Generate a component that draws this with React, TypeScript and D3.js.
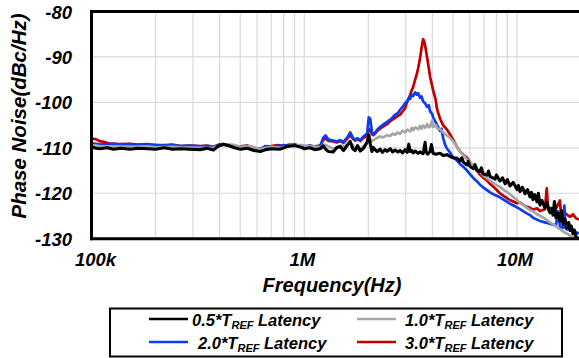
import React from "react";
import * as d3 from "d3";

// Phase noise traces for four loop latencies: [offset frequency (kHz), dBc/Hz]
const latency05: [number, number][] = [
  [100, -109.8], [105, -110.1], [110, -110.2], [118, -110.0], [127, -110.3], [138, -110.1], [152, -110.3],
  [165, -110.1], [183, -110.2], [200, -110.3], [220, -110.0], [240, -110.3], [262, -110.2], [290, -110.3],
  [325, -110.4], [350, -110.1], [374, -110.5], [395, -109.6], [417, -109.2], [440, -109.5], [470, -110.0],
  [501, -110.3], [540, -110.1], [580, -110.6], [622, -110.8], [660, -110.4], [700, -110.2], [772, -110.3],
  [830, -109.7], [900, -109.5], [958, -109.8], [1000, -110.2], [1060, -110.0], [1120, -110.4], [1189, -110.2],
  [1228, -109.6], [1260, -110.3], [1300, -110.8], [1368, -110.9], [1420, -110.0], [1476, -109.7], [1530, -110.6],
  [1600, -109.3], [1644, -108.6], [1690, -110.2], [1735, -110.6], [1780, -109.5], [1832, -110.7], [1900, -110.1],
  [1976, -108.7], [2010, -107.2], [2042, -109.0], [2080, -110.8], [2109, -109.9], [2160, -110.5], [2202, -110.8],
  [2273, -110.3], [2330, -111.0], [2400, -110.4], [2452, -110.8], [2535, -110.2], [2600, -110.9], [2675, -110.5],
  [2750, -110.9], [2825, -110.6], [2900, -111.1], [2979, -110.4], [3047, -111.0], [3100, -109.2], [3146, -110.8],
  [3200, -110.6], [3249, -111.1], [3321, -110.7], [3430, -111.2], [3505, -110.9], [3620, -111.3], [3700, -108.8],
  [3740, -110.9], [3800, -111.4], [3905, -110.8], [3960, -109.3], [4033, -111.2], [4150, -111.4], [4348, -111.2],
  [4493, -111.7], [4690, -111.5], [4842, -111.9], [5008, -112.2], [5228, -112.3], [5400, -112.9], [5500, -112.2],
  [5600, -113.2], [5821, -113.8], [5900, -113.0], [6012, -114.1], [6250, -114.6], [6350, -113.7], [6486, -115.0],
  [6699, -115.2], [6800, -114.4], [6920, -115.7], [7228, -116.0], [7350, -115.1], [7464, -116.3], [7880, -116.9],
  [8000, -116.0], [8318, -117.3], [8550, -116.6], [8790, -117.9], [9000, -117.0], [9270, -118.4], [9600, -117.6],
  [10000, -119.2], [10150, -118.3], [10330, -119.6], [10600, -118.7], [10910, -120.1], [11200, -119.2],
  [11510, -120.8], [11700, -119.8], [11890, -121.4], [12100, -120.3], [12410, -121.9], [12600, -120.0],
  [12820, -122.6], [13100, -121.6], [13520, -123.2], [13800, -122.0], [14290, -124.3], [14500, -123.3],
  [14760, -124.8], [15000, -121.8], [15240, -125.4], [15600, -124.4], [15920, -126.1], [16200, -123.8],
  [16440, -126.8], [16800, -125.7], [17180, -127.5], [17500, -126.4], [17740, -128.2], [18000, -127.2],
  [18330, -128.9], [18600, -128.1], [18930, -129.6], [19550, -130.0],
];

const latency10: [number, number][] = [
  [100, -109.4], [110, -109.6], [127, -109.7], [152, -109.8], [183, -109.7], [200, -109.9], [240, -109.8],
  [262, -109.9], [325, -110.0], [374, -110.0], [417, -109.3], [460, -109.3], [501, -109.8], [560, -109.7],
  [622, -110.3], [700, -109.8], [772, -110.0], [850, -109.6], [958, -109.4], [1060, -109.6], [1189, -109.9],
  [1250, -109.3], [1368, -110.2], [1476, -109.5], [1560, -109.6], [1644, -108.8], [1735, -110.0], [1832, -110.2],
  [1976, -109.0], [2020, -107.5], [2060, -108.6], [2109, -108.3], [2202, -107.8], [2273, -107.5], [2350, -107.7],
  [2452, -107.2], [2535, -107.4], [2600, -106.9], [2675, -107.1], [2750, -106.6], [2825, -106.9], [2900, -106.2],
  [2979, -106.6], [3047, -106.0], [3146, -106.4], [3200, -105.6], [3249, -106.1], [3321, -105.5], [3430, -105.9],
  [3505, -105.2], [3560, -105.8], [3620, -105.1], [3700, -105.6], [3777, -104.8], [3850, -105.5], [3905, -105.3],
  [4000, -103.9], [4033, -105.4], [4150, -105.0], [4210, -105.7], [4348, -105.9], [4493, -106.6], [4690, -107.3],
  [4842, -107.8], [5008, -108.6], [5228, -109.7], [5400, -110.8], [5600, -111.6], [5821, -112.6], [6012, -113.1],
  [6250, -114.0], [6486, -114.6], [6699, -115.2], [6920, -116.0], [7228, -116.7], [7464, -117.2], [7880, -118.0],
  [8318, -118.6], [8790, -119.5], [9270, -120.2], [10000, -121.5], [10330, -122.1], [10910, -122.9],
  [11510, -123.7], [11890, -124.0], [12410, -124.6], [12820, -124.9], [13520, -125.6], [14290, -126.4],
  [14760, -126.8], [15240, -127.3], [15920, -127.9], [16440, -128.4], [17180, -128.9], [17740, -129.3],
  [18330, -129.7], [18930, -130.0],
];

const latency20: [number, number][] = [
  [100, -109.0], [105, -109.1], [110, -109.3], [118, -109.2], [127, -109.1], [140, -109.3], [152, -109.2],
  [165, -109.4], [183, -109.3], [200, -109.4], [220, -109.5], [240, -109.4], [262, -109.6], [290, -109.5],
  [325, -109.7], [350, -109.6], [374, -109.8], [395, -109.3], [417, -109.2], [440, -109.4], [470, -109.9],
  [501, -109.8], [540, -109.6], [580, -110.1], [622, -110.3], [660, -109.6], [700, -109.8], [750, -109.6],
  [800, -109.4], [850, -109.6], [900, -109.2], [958, -109.6], [1000, -109.9], [1060, -109.5], [1120, -109.8],
  [1189, -109.6], [1228, -107.8], [1260, -107.3], [1300, -108.2], [1368, -108.4], [1420, -108.6], [1476, -108.3],
  [1530, -108.7], [1600, -107.6], [1644, -106.6], [1690, -107.7], [1735, -108.2], [1780, -107.9], [1832, -108.3],
  [1900, -107.5], [1976, -106.8], [2010, -103.3], [2042, -103.6], [2080, -106.5], [2109, -107.0], [2160, -106.6],
  [2202, -106.0], [2273, -105.4], [2350, -104.9], [2452, -104.3], [2535, -103.8], [2600, -103.3], [2675, -102.7],
  [2750, -102.4], [2825, -101.6], [2900, -101.0], [2979, -100.2], [3047, -99.8], [3100, -99.0], [3146, -99.2],
  [3200, -98.3], [3249, -98.6], [3321, -97.8], [3380, -98.3], [3430, -98.0], [3505, -99.0], [3560, -98.7],
  [3620, -99.8], [3700, -100.2], [3777, -101.0], [3850, -100.6], [3905, -102.0], [4000, -102.6], [4033, -103.3],
  [4100, -103.9], [4210, -105.0], [4348, -106.3], [4420, -105.8], [4493, -107.8], [4600, -109.4], [4690, -110.2],
  [4842, -111.0], [5008, -112.1], [5228, -112.8], [5400, -113.6], [5600, -114.2], [5821, -115.0], [6012, -115.8],
  [6250, -116.7], [6486, -117.4], [6699, -118.1], [6920, -118.7], [7228, -119.3], [7464, -119.8], [7880, -120.4],
  [8318, -120.9], [8790, -121.6], [9270, -122.3], [10000, -123.1], [10330, -123.5], [10910, -124.2],
  [11510, -124.8], [11890, -125.4], [12410, -125.8], [12820, -126.1], [13520, -126.4], [14290, -126.7],
  [14760, -126.9], [15240, -127.1], [15600, -124.0], [15920, -127.3], [16440, -127.6], [16700, -122.7],
  [16900, -127.7], [17180, -128.0], [17740, -127.2], [18330, -128.3], [18930, -128.6], [19550, -128.9],
];

const latency30: [number, number][] = [
  [100, -108.1], [103, -108.0], [107, -108.3], [110, -108.6], [115, -108.7], [120, -109.0], [127, -109.1],
  [135, -109.2], [152, -109.1], [165, -109.3], [183, -109.2], [200, -109.4], [220, -109.4], [240, -109.3],
  [262, -109.6], [290, -109.5], [325, -109.6], [350, -109.5], [374, -109.8], [395, -109.4], [417, -109.3],
  [440, -109.5], [470, -109.8], [501, -109.7], [540, -109.5], [580, -110.0], [622, -110.2], [660, -109.7],
  [700, -109.6], [750, -109.4], [800, -109.6], [850, -109.3], [900, -109.4], [958, -109.7], [1000, -109.8],
  [1060, -109.5], [1120, -109.7], [1189, -109.5], [1228, -108.3], [1260, -107.9], [1300, -108.5], [1368, -108.6],
  [1420, -108.8], [1476, -108.5], [1530, -108.9], [1600, -107.9], [1644, -107.2], [1690, -108.0], [1735, -108.4],
  [1780, -108.1], [1832, -108.5], [1900, -107.8], [1976, -107.3], [2010, -105.8], [2042, -106.2], [2080, -107.0],
  [2109, -107.2], [2160, -106.8], [2202, -106.3], [2273, -105.8], [2350, -105.3], [2452, -104.8], [2535, -104.1],
  [2600, -103.8], [2675, -103.4], [2750, -103.0], [2825, -102.7], [2900, -102.0], [2979, -101.3], [3047, -99.8],
  [3100, -99.2], [3146, -98.3], [3200, -97.4], [3249, -96.6], [3321, -95.0], [3380, -93.8], [3430, -92.5],
  [3505, -90.2], [3560, -88.0], [3620, -86.1], [3660, -86.5], [3700, -87.5], [3777, -90.0], [3850, -92.5],
  [3905, -94.4], [4033, -97.3], [4150, -99.5], [4210, -101.5], [4348, -103.6], [4493, -105.0], [4690, -106.0],
  [4842, -107.0], [5008, -108.2], [5228, -109.8], [5400, -110.8], [5600, -111.5], [5821, -112.2], [6012, -113.2],
  [6250, -114.1], [6486, -115.0], [6699, -115.9], [6920, -116.5], [7228, -117.2], [7464, -117.9], [7880, -118.9],
  [8318, -120.0], [8790, -120.8], [9270, -121.5], [10000, -122.2], [10330, -122.0], [10910, -122.8],
  [11510, -123.2], [11890, -123.6], [12410, -123.3], [12820, -123.9], [13520, -123.5], [13800, -118.9],
  [14000, -123.6], [14290, -123.9], [14760, -124.2], [15240, -123.4], [15920, -121.6], [16100, -124.6],
  [16440, -124.0], [17180, -124.7], [17740, -125.2], [18330, -124.6], [18930, -125.5], [19550, -125.8],
];

const xTicks = [100, 1000, 10000];
const xTickLabels = ["100k", "1M", "10M"];
const yTicks = [-80, -90, -100, -110, -120, -130];

const seriesList = [
  { name: "3.0", data: latency30, color: "#c00000" },
  { name: "2.0", data: latency20, color: "#0a3cf0" },
  { name: "1.0", data: latency10, color: "#a6a6a6" },
  { name: "0.5", data: latency05, color: "#000000" },
];

const W = 579;
const H = 358;
const left = 91.5;
const right = 579;
const top = 11.5;
const bottom = 238.7;

const font = "'Liberation Sans', Arial, sans-serif";

export default function App() {
  const x = d3.scaleLog().domain([100, 19560]).range([left, right]);
  const y = d3.scaleLinear().domain([-130, -80]).range([bottom, top]);
  const line = d3
    .line<[number, number]>()
    .x((d) => x(d[0]))
    .y((d) => y(d[1]));

  // minor grid positions: 2..9 × each decade
  const vGrid: number[] = [];
  [100, 1000, 10000].forEach((dec) => {
    for (let k = 1; k <= 9; k++) {
      const f = dec * k;
      if (f > 100 && f < 19560) vGrid.push(f);
    }
  });

  const legendItems = [
    { label: "0.5", color: "#000000", lx: 149, tx: 192, ly: 319, ty: 326 },
    { label: "1.0", color: "#a6a6a6", lx: 357, tx: 405, ly: 319, ty: 326 },
    { label: "2.0", color: "#0a3cf0", lx: 149, tx: 198, ly: 342, ty: 349 },
    { label: "3.0", color: "#c00000", lx: 357, tx: 405, ly: 342, ty: 349 },
  ];

  return (
    <svg
      width={W}
      height={H}
      style={{ position: "absolute", left: 0, top: 0, background: "#fff" }}
      fontFamily={font}
    >
      <rect x={0} y={0} width={W} height={H} fill="#fff" />
      <defs>
        <clipPath id="plotClip">
          <rect x={left} y={top} width={right - left} height={bottom - top} />
        </clipPath>
      </defs>

      {/* grid */}
      {vGrid.map((f) => (
        <line key={"v" + f} x1={x(f)} x2={x(f)} y1={top} y2={bottom} stroke="#d9d9d9" strokeWidth={1.2} />
      ))}
      {yTicks.slice(1, -1).map((v) => (
        <line key={"h" + v} x1={left} x2={right} y1={y(v)} y2={y(v)} stroke="#d9d9d9" strokeWidth={1.2} />
      ))}

      {/* traces */}
      <g clipPath="url(#plotClip)">
        {seriesList.map((s) => (
          <path
            key={s.name}
            d={line(s.data) || ""}
            fill="none"
            stroke={s.color}
            strokeWidth={s.name === "0.5" ? 3.1 : 2.7}
            strokeLinejoin="round"
          />
        ))}
      </g>

      {/* frame */}
      <line x1={left - 1.5} x2={right} y1={top} y2={top} stroke="#000" strokeWidth={3} />
      <line x1={left - 1.5} x2={right} y1={bottom} y2={bottom} stroke="#000" strokeWidth={3} />
      <line x1={left} x2={left} y1={top - 1.5} y2={bottom + 1.5} stroke="#000" strokeWidth={3} />

      {/* y tick labels */}
      {yTicks.map((v) => (
        <text
          key={"yl" + v}
          x={72}
          y={y(v) + 7}
          textAnchor="end"
          fontSize={18.5}
          fontWeight="bold"
          fontStyle="italic"
        >
          {v}
        </text>
      ))}

      {/* x tick labels */}
      {xTicks.map((f, i) => (
        <text
          key={"xl" + f}
          x={x(f) + (i === 0 ? 4 : -2)}
          y={266}
          textAnchor="middle"
          fontSize={18.5}
          fontWeight="bold"
          fontStyle="italic"
        >
          {xTickLabels[i]}
        </text>
      ))}

      {/* axis titles */}
      <text x={332} y={292} textAnchor="middle" fontSize={20} fontWeight="bold" fontStyle="italic">
        Frequency(Hz)
      </text>
      <text
        transform="translate(26,116) rotate(-90)"
        textAnchor="middle"
        fontSize={20.5}
        fontWeight="bold"
        fontStyle="italic"
      >
        Phase Noise(dBc/Hz)
      </text>

      {/* legend */}
      <rect x={110} y={308.5} width={452} height={48} fill="#fff" stroke="#000" strokeWidth={2} />
      {legendItems.map((it) => (
        <g key={"lg" + it.label}>
          <line x1={it.lx} x2={it.lx + 39} y1={it.ly} y2={it.ly} stroke={it.color} strokeWidth={2.4} />
          <text x={it.tx} y={it.ty} fontSize={16.5} fontWeight="bold" fontStyle="italic">
            {it.label + "*T"}
            <tspan fontSize={11} dy={3}>
              REF
            </tspan>
            <tspan dy={-3}> Latency</tspan>
          </text>
        </g>
      ))}
    </svg>
  );
}
